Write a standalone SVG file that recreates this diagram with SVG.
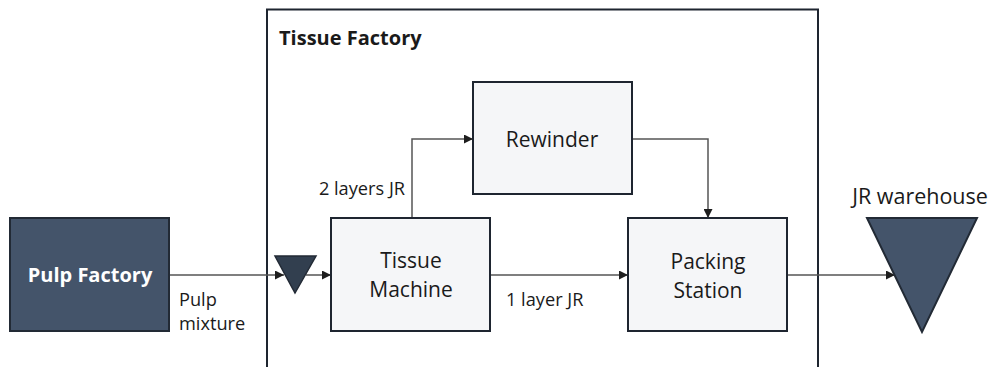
<svg xmlns="http://www.w3.org/2000/svg" width="993" height="367" viewBox="0 0 993 367">
<style>
text{font-family:"Open Sans","Liberation Sans",sans-serif;fill:#1a1a1a}
.box{fill:#f5f6f8;stroke:#1e2530;stroke-width:2}
.dark{fill:#44546a;stroke:#222a35;stroke-width:2}
.lbl{font-size:21px;text-anchor:middle}
.sm{font-size:18.2px}
.conn{fill:none;stroke:#555;stroke-width:1.5}
</style>
<defs>
<marker id="arr" viewBox="0 0 10 10" refX="10" refY="5" markerWidth="9" markerHeight="9" markerUnits="userSpaceOnUse" orient="auto">
<path d="M0,0 L10,5 L0,10 z" fill="#1e1e1e"/>
</marker>
</defs>
<rect width="993" height="367" fill="#fff"/>
<g id="tissue-factory">
<path d="M267,367 V9.5 H818 V367" fill="none" stroke="#1e2530" stroke-width="2"/>
<text x="279" y="45" style="font-size:20px;font-weight:bold">Tissue Factory</text>
</g>
<g id="connectors">
<path class="conn" d="M169,275 H284" marker-end="url(#arr)"/>
<path class="conn" d="M306,275 H331" marker-end="url(#arr)"/>
<path class="conn" d="M412,218 V139 H473" marker-end="url(#arr)"/>
<path class="conn" d="M632,139 H708 V218" marker-end="url(#arr)"/>
<path class="conn" d="M490,275 H628" marker-end="url(#arr)"/>
<path class="conn" d="M787,275 H895" marker-end="url(#arr)"/>
<text class="sm" x="179" y="306">Pulp</text>
<text class="sm" x="179" y="330">mixture</text>
<text class="sm" x="405" y="195" text-anchor="end">2 layers JR</text>
<text class="sm" x="506" y="306">1 layer JR</text>
</g>
<g id="pulp-factory">
<rect class="dark" x="10" y="218" width="159" height="113"/>
<text x="90" y="282" style="font-size:20px;font-weight:bold;fill:#fff;text-anchor:middle">Pulp Factory</text>
</g>
<g id="buffer">
<path d="M275,256 H316 L295,293 z" fill="#323f4f" stroke="#222a35" stroke-width="1.5"/>
</g>
<g id="tissue-machine">
<rect class="box" x="331" y="218" width="159" height="113"/>
<text class="lbl" x="411" y="268">Tissue</text>
<text class="lbl" x="411" y="297">Machine</text>
</g>
<g id="rewinder">
<rect class="box" x="473" y="82" width="159" height="112"/>
<text class="lbl" x="552" y="147">Rewinder</text>
</g>
<g id="packing-station">
<rect class="box" x="628" y="218" width="159" height="113"/>
<text class="lbl" x="708" y="269">Packing</text>
<text class="lbl" x="708" y="298">Station</text>
</g>
<g id="jr-warehouse">
<path class="dark" d="M867,218 H977 L922,332 z"/>
<text class="lbl" x="920" y="204" style="font-size:21.5px">JR warehouse</text>
</g>
</svg>
